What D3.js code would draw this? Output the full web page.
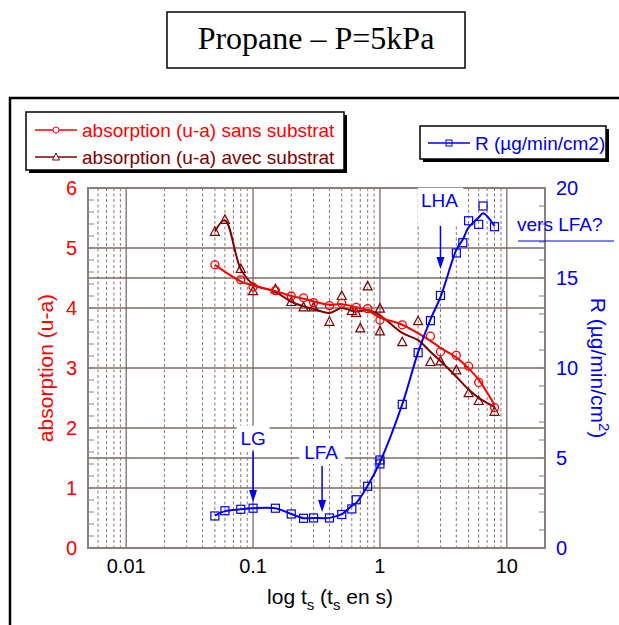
<!DOCTYPE html>
<html>
<head>
<meta charset="utf-8">
<script src="https://cdn.jsdelivr.net/npm/d3@7"></script>
<style>
  body { margin: 0; background: #fff; }
  text { font-family: Arial, "Liberation Sans", sans-serif; }
</style>
</head>
<body>
<div id="chart"></div>
<script>
// absorption sans substrat (red circles)
const timesSans = [0.05, 0.08, 0.1, 0.15, 0.2, 0.25, 0.3, 0.4, 0.5, 0.65, 0.8, 1.0, 1.5, 2.5, 3, 4, 5, 6, 8];
const absSans   = [4.72, 4.47, 4.35, 4.29, 4.2, 4.17, 4.09, 4.04, 4.08, 4.01, 3.99, 3.8, 3.72, 3.53, 3.27, 3.21, 3.03, 2.76, 2.34];

// absorption avec substrat (dark red triangles)
const timesAvec = [0.05, 0.06, 0.08, 0.1, 0.15, 0.2, 0.25, 0.3, 0.4, 0.5, 0.6, 0.65, 0.7, 0.8, 1.0, 1.0, 1.5, 2.0, 2.5, 3, 4, 5, 6, 8];
const absAvec   = [5.27, 5.47, 4.65, 4.28, 4.31, 4.1, 4.01, 4.01, 3.77, 4.2, 3.95, 3.92, 3.66, 4.36, 3.99, 3.61, 3.43, 3.78, 3.10, 3.11, 2.96, 2.58, 2.45, 2.27];

// R (µg/min/cm2) blue squares
const timesR = [0.05, 0.06, 0.08, 0.1, 0.15, 0.2, 0.25, 0.3, 0.4, 0.5, 0.6, 0.65, 0.8, 1.0, 1.0, 1.5, 2.0, 2.5, 3, 4, 4.5, 5, 6, 6.5, 8];
const rateR  = [1.78, 2.07, 2.15, 2.21, 2.21, 1.89, 1.65, 1.67, 1.67, 1.86, 2.17, 2.68, 3.43, 4.89, 4.67, 7.98, 10.85, 12.63, 14.03, 16.39, 16.96, 18.18, 17.98, 19.0, 17.85];

const xTicks = [0.01, 0.1, 1, 10];
const xTickLabels = ["0.01", "0.1", "1", "10"];
const leftTicks = [0, 1, 2, 3, 4, 5, 6];
const rightTicks = [0, 5, 10, 15, 20];

// annotations: label, time, arrow top / tip in R units, gap above arrow
const notes = [
  { label: "LG",  t: 0.1,  top: 5.35, tip: 2.55, gap: 7 },
  { label: "LFA", t: 0.35, top: 4.55, tip: 2.0,  gap: 7 },
  { label: "LHA", t: 3,    top: 17.9, tip: 15.5, gap: 19 }
];

const W = 619, H = 625;
const RED = "#ff0000", DARK = "#800000", BLUE = "#0000f0";
const GRID = "#7d6a66";

const svg = d3.select("#chart").append("svg")
  .attr("width", W).attr("height", H);

const x = d3.scaleLog().domain([0.005, 20]).range([88, 545]);
const yL = d3.scaleLinear().domain([0, 6]).range([548, 188]);
const yR = d3.scaleLinear().domain([0, 20]).range([548, 188]);

// outer frame
svg.append("path").attr("d", "M10,625V98H619")
  .attr("fill", "none").attr("stroke", "#000").attr("stroke-width", 2.5);

// title box
svg.append("rect").attr("x", 167).attr("y", 12).attr("width", 298).attr("height", 56)
  .attr("fill", "#fff").attr("stroke", "#000").attr("stroke-width", 1.5);
svg.append("text").attr("x", 316).attr("y", 49).attr("text-anchor", "middle")
  .style("font-family", "'Liberation Serif', 'Times New Roman', serif")
  .style("font-size", "32px").text("Propane – P=5kPa");

// vertical grid
const vt = x.ticks().filter(d => d > 0.005 && d < 20);
svg.append("g").selectAll("line").data(vt).join("line")
  .attr("x1", d => x(d)).attr("x2", d => x(d))
  .attr("y1", 188).attr("y2", 548)
  .attr("stroke", d => xTicks.includes(d) ? "#8a7f7c" : "#8a7570")
  .attr("stroke-width", d => xTicks.includes(d) ? 1.5 : 1)
  .attr("stroke-dasharray", d => xTicks.includes(d) ? null : "3,2.5");

// horizontal grid (left majors + right majors)
const hg = [1, 2, 3, 4, 5].map(v => yL(v)).concat([5, 15].map(v => yR(v)));
svg.append("g").selectAll("line").data(hg).join("line")
  .attr("x1", 88).attr("x2", 545).attr("y1", d => d).attr("y2", d => d)
  .attr("stroke", GRID).attr("stroke-width", 1.5);

// minor ticks
svg.append("g").selectAll("line").data(d3.range(0, 6.01, 0.2)).join("line")
  .attr("x1", 88).attr("x2", 94).attr("y1", d => yL(d)).attr("y2", d => yL(d))
  .attr("stroke", "#8a7f7c");
svg.append("g").selectAll("line").data(d3.range(0, 20.01, 1)).join("line")
  .attr("x1", 545).attr("x2", 539).attr("y1", d => yR(d)).attr("y2", d => yR(d))
  .attr("stroke", "#8a7f7c");

// plot border
svg.append("rect").attr("x", 88).attr("y", 188).attr("width", 457).attr("height", 360)
  .attr("fill", "none").attr("stroke", "#8a7f7c").attr("stroke-width", 2);

// tick labels
svg.append("g").selectAll("text").data(leftTicks).join("text")
  .attr("x", 77).attr("y", d => yL(d) + 7).attr("text-anchor", "end")
  .attr("fill", RED).style("font-size", "20px").text(d => d);
svg.append("g").selectAll("text").data(rightTicks).join("text")
  .attr("x", 556).attr("y", d => yR(d) + 7)
  .attr("fill", BLUE).style("font-size", "20px").text(d => d);
svg.append("g").selectAll("text").data(xTicks).join("text")
  .attr("x", d => x(d)).attr("y", 573).attr("text-anchor", "middle")
  .style("font-size", "20px").text((d, i) => xTickLabels[i]);

// axis titles
const xt = svg.append("text").attr("x", 330).attr("y", 604).attr("text-anchor", "middle")
  .style("font-size", "21px");
xt.append("tspan").text("log t");
xt.append("tspan").attr("dy", 6).style("font-size", "15px").text("s");
xt.append("tspan").attr("dy", -6).text(" (t");
xt.append("tspan").attr("dy", 6).style("font-size", "15px").text("s");
xt.append("tspan").attr("dy", -6).text(" en s)");

svg.append("text").attr("transform", "translate(53,368) rotate(-90)")
  .attr("text-anchor", "middle").attr("fill", RED).style("font-size", "21px")
  .text("absorption (u-a)");

const yt = svg.append("text").attr("transform", "translate(591,368) rotate(90)")
  .attr("text-anchor", "middle").attr("fill", BLUE).style("font-size", "21px");
yt.append("tspan").text("R (µg/min/cm");
yt.append("tspan").attr("dy", -8).style("font-size", "15px").text("2");
yt.append("tspan").attr("dy", 8).text(")");

// annotation label boxes + arrows
notes.forEach(n => {
  const ax = x(n.t), top = yR(n.top), tip = yR(n.tip);
  const tw = n.label.length * 12.5 + 4;
  const base = top - n.gap;
  svg.append("rect").attr("x", ax - tw / 2 - 2).attr("y", base - 19).attr("width", tw + 4).attr("height", n.gap + 17)
    .attr("fill", "#fff");
  svg.append("text").attr("x", ax - (n.label === "LG" ? 0 : 1)).attr("y", base)
    .attr("text-anchor", "middle").attr("fill", BLUE).style("font-size", "19px").text(n.label);
  svg.append("line").attr("x1", ax).attr("x2", ax).attr("y1", top).attr("y2", tip - 10)
    .attr("stroke", BLUE).attr("stroke-width", 1.5);
  svg.append("path").attr("d", `M${ax - 4},${tip - 12}L${ax + 4},${tip - 12}L${ax},${tip}Z`)
    .attr("fill", BLUE);
});

// vers LFA?
svg.append("text").attr("x", 517).attr("y", 231).attr("fill", BLUE).style("font-size", "19px").text("vers LFA?");
svg.append("line").attr("x1", 518).attr("x2", 614).attr("y1", 241).attr("y2", 241)
  .attr("stroke", BLUE).attr("stroke-width", 1.2);

// kernel smoothing in log-x space, evaluated at the data times
function smooth(xs, ys, bwAt) {
  const ux = Array.from(new Set(xs)).sort((a, b) => a - b);
  return ux.map(u => {
    const bw = bwAt(u);
    let sw = 0, s = 0;
    xs.forEach((t, i) => {
      const w = Math.exp(-0.5 * Math.pow((Math.log10(t) - Math.log10(u)) / bw, 2));
      sw += w; s += w * ys[i];
    });
    return [u, s / sw];
  });
}

function series(times, vals, yScale, color, bwAt, shape) {
  const line = d3.line().x(d => x(d[0])).y(d => yScale(d[1])).curve(d3.curveCatmullRom.alpha(0.5));
  svg.append("path").datum(smooth(times, vals, bwAt)).attr("d", line)
    .attr("fill", "none").attr("stroke", color).attr("stroke-width", 2);
  const pts = times.map((t, i) => [t, vals[i]]);
  const g = svg.append("g");
  if (shape === "circle") {
    g.selectAll("circle").data(pts).join("circle")
      .attr("cx", d => x(d[0])).attr("cy", d => yScale(d[1])).attr("r", 4)
      .attr("fill", "none").attr("stroke", color).attr("stroke-width", 1.3);
  } else if (shape === "triangle") {
    g.selectAll("path").data(pts).join("path")
      .attr("d", d => { const cx = x(d[0]), cy = yScale(d[1]); return `M${cx},${cy - 5}L${cx + 4.5},${cy + 3.5}L${cx - 4.5},${cy + 3.5}Z`; })
      .attr("fill", "none").attr("stroke", color).attr("stroke-width", 1.2);
  } else {
    g.selectAll("rect").data(pts).join("rect")
      .attr("x", d => x(d[0]) - 4).attr("y", d => yScale(d[1]) - 4).attr("width", 8).attr("height", 8)
      .attr("fill", "none").attr("stroke", color).attr("stroke-width", 1.2);
  }
}

series(timesAvec, absAvec, yL, DARK, u => (u < 0.09 ? 0.03 : u < 1.2 ? 0.075 : 0.1), "triangle");
series(timesSans, absSans, yL, RED, () => 0.06, "circle");
series(timesR, rateR, yR, BLUE, () => 0.035, "square");

// legends
function legendBox(x0, y0, w, h) {
  svg.append("rect").attr("x", x0 + 3).attr("y", y0 + 3).attr("width", w).attr("height", h).attr("fill", "#000");
  svg.append("rect").attr("x", x0).attr("y", y0).attr("width", w).attr("height", h)
    .attr("fill", "#fff").attr("stroke", "#000").attr("stroke-width", 1.5);
}
legendBox(26, 112, 318, 58);
legendBox(420, 126, 186, 33);

const legItems = [
  { label: "absorption (u-a) sans substrat", color: RED, shape: "circle", x0: 35, y: 130 },
  { label: "absorption (u-a) avec substrat", color: DARK, shape: "triangle", x0: 35, y: 157 },
  { label: "R (µg/min/cm2)", color: BLUE, shape: "square", x0: 428, y: 143 }
];
legItems.forEach(d => {
  svg.append("line").attr("x1", d.x0).attr("x2", d.x0 + 42).attr("y1", d.y).attr("y2", d.y)
    .attr("stroke", d.color).attr("stroke-width", 1.5);
  const cx = d.x0 + 21;
  if (d.shape === "circle") {
    svg.append("circle").attr("cx", cx).attr("cy", d.y).attr("r", 3).attr("fill", "#fff").attr("stroke", d.color);
  } else if (d.shape === "triangle") {
    svg.append("path").attr("d", `M${cx},${d.y - 4}L${cx + 3.5},${d.y + 3}L${cx - 3.5},${d.y + 3}Z`)
      .attr("fill", "#fff").attr("stroke", d.color);
  } else {
    svg.append("rect").attr("x", cx - 3).attr("y", d.y - 3).attr("width", 6).attr("height", 6)
      .attr("fill", "none").attr("stroke", d.color);
  }
  svg.append("text").attr("x", d.x0 + 47).attr("y", d.y + 7).attr("fill", d.color)
    .style("font-size", "19px").text(d.label);
});
</script>
</body>
</html>
